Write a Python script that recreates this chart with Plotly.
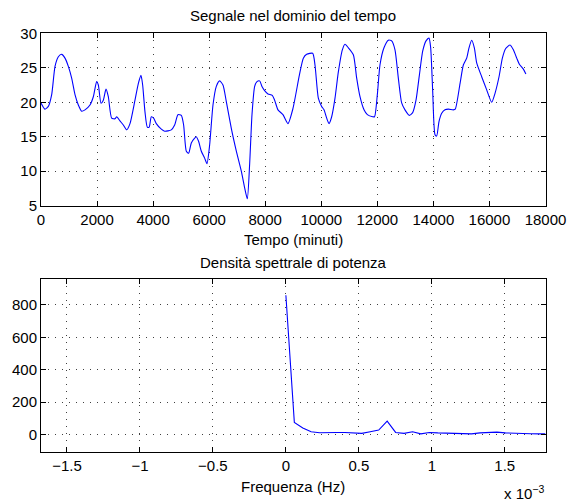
import plotly.graph_objects as go

# ---- Data: time-domain signal ----
tempo_min = [0, 143, 262, 381, 500, 619, 738, 856, 975, 1094, 1213, 1332, 1451, 1570,
             1748, 1867, 1986, 2046, 2141, 2224, 2319, 2402, 2521, 2640, 2700, 2818,
             2937, 3056, 3175, 3353, 3472, 3567, 3627, 3710, 3793, 3860, 3936, 4019,
             4114, 4292, 4411, 4649, 4768, 4887, 5006, 5089, 5185, 5268, 5363, 5482,
             5541, 5625, 5720, 5839, 5922, 6017, 6136, 6255, 6374, 6493, 6612, 6790,
             6969, 7147, 7266, 7361, 7444, 7528, 7623, 7706, 7801, 7884, 7979, 8098,
             8252, 8336, 8455, 8633, 8811, 8990, 9217, 9360, 9479, 9693, 9776, 9895,
             10013, 10097, 10192, 10276, 10371, 10490, 10609, 10752, 10847, 10966,
             11144, 11263, 11382, 11525, 11644, 11834, 11900, 12000, 12094, 12237,
             12392, 12511, 12630, 12749, 12868, 12987, 13142, 13261, 13380, 13499,
             13618, 13737, 13844, 13903, 13975, 14058, 14117, 14200, 14296, 14414,
             14533, 14712, 14780, 14950, 15069, 15188, 15271, 15366, 15461, 15545,
             15723, 15902, 16080, 16199, 16342, 16461, 16580, 16735, 16854, 16973,
             17068, 17211, 17300]
segnale = [19.9, 19.0, 19.4, 21.1, 25.2, 26.6, 26.95, 26.4, 25.2, 23.5, 21.1, 19.6, 18.7, 18.9,
           19.6, 20.8, 23.0, 22.5, 19.85, 20.3, 21.9, 20.8, 17.7, 17.6, 17.9, 17.3,
           16.7, 16.0, 16.9, 20.3, 22.7, 23.9, 22.5, 18.6, 16.4, 16.4, 17.9, 17.7,
           16.9, 16.1, 15.8, 16.0, 16.7, 18.2, 18.1, 16.7, 12.9, 12.6, 14.1, 14.8,
           15.0, 14.3, 12.9, 11.9, 11.1, 13.8, 19.6, 22.3, 23.1, 22.5, 20.1, 16.2,
           12.9, 10.0, 7.6, 6.0, 11.0, 18.2, 22.3, 23.0, 23.1, 22.3, 21.7, 21.2,
           21.0, 20.3, 18.9, 18.2, 16.9, 19.1, 23.9, 26.4, 26.95, 27.1, 25.4, 20.6,
           19.4, 18.9, 17.7, 16.9, 17.9, 20.6, 24.4, 27.6, 28.4, 27.9,
           26.9, 23.5, 20.8, 18.9, 18.2, 17.9, 17.9, 21.1, 25.4, 27.9,
           29.0, 28.9, 27.6, 23.5, 19.9, 18.9, 18.1, 18.5, 20.3, 23.9,
           27.4, 28.9, 29.3, 27.9, 21.6, 15.3, 15.1, 17.2, 18.4, 18.9,
           19.0, 18.9, 19.0, 22.7, 25.4, 26.4, 27.9, 29.0, 27.9, 25.7,
           23.7, 21.8, 20.0, 21.3, 23.7, 26.4, 27.8, 28.3, 27.6, 26.4,
           25.5, 24.8, 24.1]

# ---- Data: power spectral density ----
freq_mhz = [0, 0.058, 0.116, 0.173, 0.231, 0.289, 0.347, 0.405, 0.463, 0.520, 0.578,
            0.636, 0.694, 0.752, 0.810, 0.868, 0.925, 0.983, 1.041, 1.099, 1.157,
            1.214, 1.272, 1.330, 1.388, 1.446, 1.504, 1.561, 1.619, 1.677, 1.735, 1.779]
psd = [860, 74, 40, 16, 10, 9, 12, 12, 11, 6, 16,
       27, 82, 12, 6, 16, 3, 12, 9, 8, 7,
       5, 3, 9, 13, 14, 9, 6, 4, 4, 3, 3]
freq_hz = [f * 1e-3 for f in freq_mhz]

x_ticks_top = list(range(0, 18001, 2000))
x_ticklabels_top = [str(v) for v in x_ticks_top]
y_ticks_top = [5, 10, 15, 20, 25, 30]
x_ticks_bot_mhz = [-1.5, -1, -0.5, 0, 0.5, 1, 1.5]
x_ticklabels_bot = ["\u22121.5", "\u22121", "\u22120.5", "0", "0.5", "1", "1.5"]
y_ticks_bot = [0, 200, 400, 600, 800]

W, H = 578, 504
FONT = "Liberation Sans, Arial, Helvetica, sans-serif"
FS = 15

fig = go.Figure()
fig.add_trace(go.Scatter(x=tempo_min, y=segnale, mode="lines",
                         line=dict(color="#0000ff", width=1.1, shape="spline", smoothing=0.6),
                         xaxis="x", yaxis="y", showlegend=False))
fig.add_trace(go.Scatter(x=freq_hz, y=psd, mode="lines",
                         line=dict(color="#0000ff", width=1.1),
                         xaxis="x2", yaxis="y2", showlegend=False))

common = dict(showline=True, linecolor="black", linewidth=1, mirror="allticks",
              ticks="inside", ticklen=5, tickcolor="black", tickwidth=1,
              showgrid=True, gridcolor="rgba(0,0,0,0.75)", gridwidth=1,
              griddash="1px,6px", zeroline=False, automargin=False,
              tickfont=dict(family=FONT, size=FS, color="black"))

xd = [41 / W, 545.5 / W]
fig.update_layout(
    template="none",
    width=W, height=H, margin=dict(l=0, r=0, t=0, b=0, pad=0),
    paper_bgcolor="white", plot_bgcolor="white",
    xaxis=dict(domain=xd, range=[0, 18000], tickvals=x_ticks_top, ticktext=x_ticklabels_top,
               anchor="y", **common),
    yaxis=dict(domain=[1 - 205.7 / H, 1 - 33.3 / H], range=[5, 30], tickvals=y_ticks_top,
               anchor="x", **common),
    xaxis2=dict(domain=xd, range=[-1.678e-3, 1.779e-3],
                tickvals=[v * 1e-3 for v in x_ticks_bot_mhz], ticktext=x_ticklabels_bot,
                anchor="y2", **common),
    yaxis2=dict(domain=[1 - 451.7 / H, 1 - 279 / H], range=[-107, 960], tickvals=y_ticks_bot,
                anchor="x2", **common),
)

def ann(text, x, y, xanchor="center"):
    fig.add_annotation(text=text, x=x / W, y=1 - y / H, xref="paper", yref="paper",
                       xanchor=xanchor, yanchor="middle", showarrow=False,
                       font=dict(family=FONT, size=FS, color="black"))

ann("Segnale nel dominio del tempo", 293, 15)
ann("Tempo (minuti)", 293, 239.5)
ann("Densità spettrale di potenza", 293, 262)
ann("Frequenza (Hz)", 293, 486.7)
ann("x 10<sup>\u22123</sup>", 546, 492, xanchor="right")

fig.write_html("out.html")
